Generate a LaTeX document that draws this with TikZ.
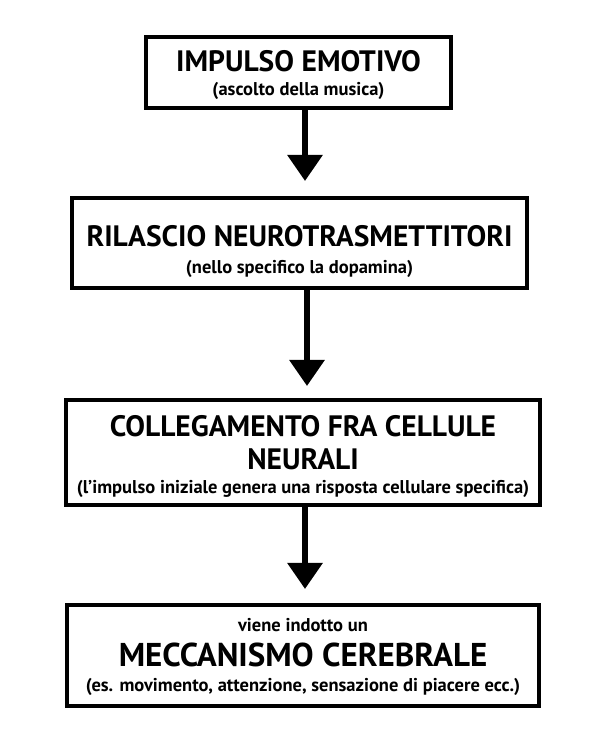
\documentclass[tikz,border=0pt]{standalone}
\usepackage{fontspec}
\setmainfont{PT Sans}
\usetikzlibrary{arrows.meta}
\tikzset{box/.style={draw,line width=4.5pt,align=center,inner sep=0pt},
 big/.style={font=\fontsize{29.5}{33}\selectfont\bfseries},
 small/.style={font=\fontsize{18.5}{21}\selectfont\bfseries},
 arr/.style={line width=6pt,-{Triangle[length=26pt,width=34pt]}}}
\begin{document}
\begin{tikzpicture}[x=1pt,y=1pt]
\useasboundingbox (0,0) rectangle (600,743);
\draw[box] (146,635) rectangle (451,706);
\node[big] at (298.5,682) {IMPULSO EMOTIVO};
\node[small] at (298.5,652) {(ascolto della musica)};
\draw[box] (72,455) rectangle (527,545);
\node[big] at (299.5,507) {RILASCIO NEUROTRASMETTITORI};
\node[small] at (299.5,474) {(nello specifico la dopamina)};
\draw[box] (66,238) rectangle (540,343);
\node[big,align=center] at (303,300) {COLLEGAMENTO FRA CELLULE\\NEURALI};
\node[small] at (303,254) {(l’impulso iniziale genera una risposta cellulare specifica)};
\draw[box] (67,37) rectangle (539,138);
\node[small] at (303,118) {viene indotto un};
\node[font=\fontsize{33}{37}\selectfont\bfseries] at (303,88) {MECCANISMO CEREBRALE};
\node[small] at (303,56) {(es. movimento, attenzione, sensazione di piacere ecc.)};
\coordinate (a1s) at (305,633); \coordinate (a1e) at (305,562);
\coordinate (a2s) at (307,453); \coordinate (a2e) at (307,357);
\coordinate (a3s) at (305,236); \coordinate (a3e) at (305,154);
\draw[arr] (a1s) -- (a1e);
\draw[arr] (a2s) -- (a2e);
\draw[arr] (a3s) -- (a3e);
\end{tikzpicture}
\end{document}
